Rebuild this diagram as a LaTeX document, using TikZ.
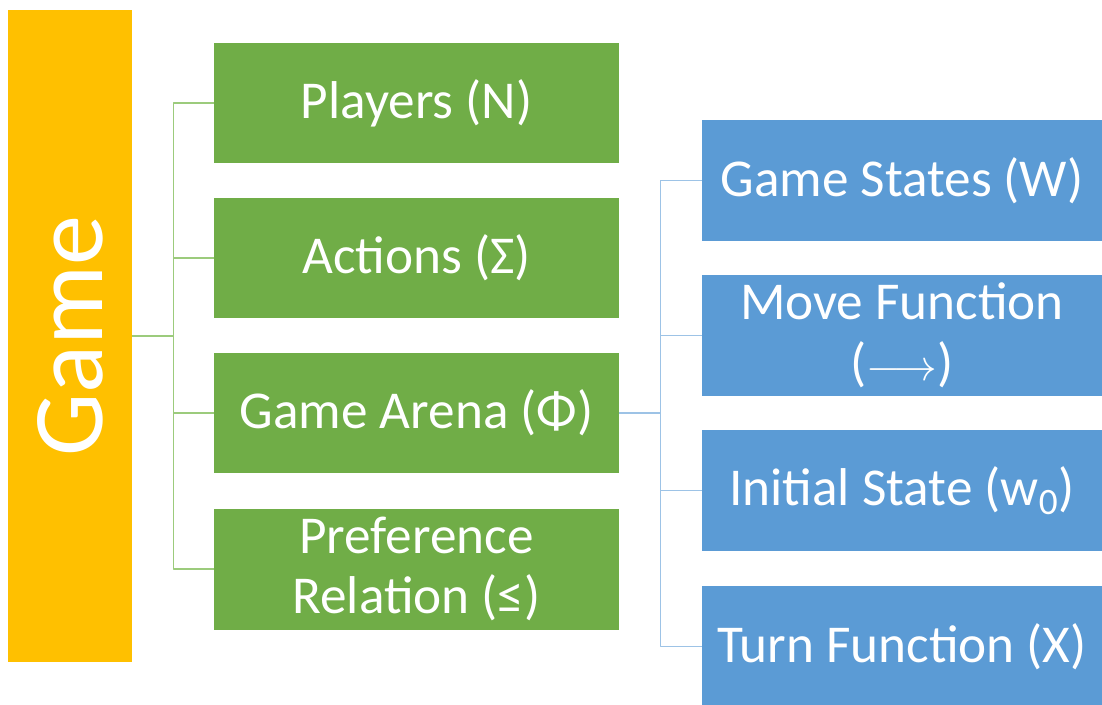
\documentclass[tikz,border=0pt]{standalone}
\usepackage{fontspec}
\setmainfont{Carlito}
\definecolor{gameyel}{HTML}{FFC000}
\definecolor{partgrn}{HTML}{70AD47}
\definecolor{partblu}{HTML}{5B9BD5}
\definecolor{lgrn}{HTML}{9CCB7C}
\definecolor{lblu}{HTML}{9DC3E6}
\tikzset{
  gamebox/.style={fill=gameyel, text=white, minimum width=2.48cm, minimum height=13.04cm, inner sep=0pt},
  grnbox/.style={fill=partgrn, text=white, minimum width=8.1cm, minimum height=2.42cm, align=center, inner sep=0pt},
  blubox/.style={fill=partblu, text=white, minimum width=8cm, minimum height=2.42cm, align=center, inner sep=0pt},
  grnline/.style={draw=lgrn, line width=0.8pt},
  bluline/.style={draw=lblu, line width=0.8pt}
}
\begin{document}
\begin{tikzpicture}[x=0.02cm, y=-0.02cm, font=\fontsize{30.3}{34.5}\selectfont, line join=round]
	\useasboundingbox (0,0) rectangle (1102,704);
	\node[gamebox] (game) at (70,336) {\rotatebox{90}{\fontsize{57}{60}\selectfont Game}};
	\node[grnbox] (players) at (416.5,103) {Players (N)};
	\node[grnbox] (actions) at (416.5,258) {Actions (Σ)};
	\node[grnbox] (arena) at (416.5,413) {Game Arena (Φ)};
	\node[grnbox] (pref) at (416.5,569) {Preference\\Relation (≤)};
	\node[blubox] (states) at (902,180.5) {Game States (W)};
	\node[blubox] (move) at (902,335.5) {Move Function\\($\longrightarrow$)};
	\node[blubox] (init) at (902,490.5) {Initial State (w\textsubscript{0})};
	\node[blubox] (turn) at (902,646.5) {Turn Function (X)};
	\foreach \p in {players,actions,arena,pref}
		\draw[grnline] (game.east) -- ++(41,0) |- (\p.west);
	\foreach \p in {states,move,init,turn}
		\draw[bluline] (arena.east) -- ++(41,0) |- (\p.west);
\end{tikzpicture}
\end{document}
